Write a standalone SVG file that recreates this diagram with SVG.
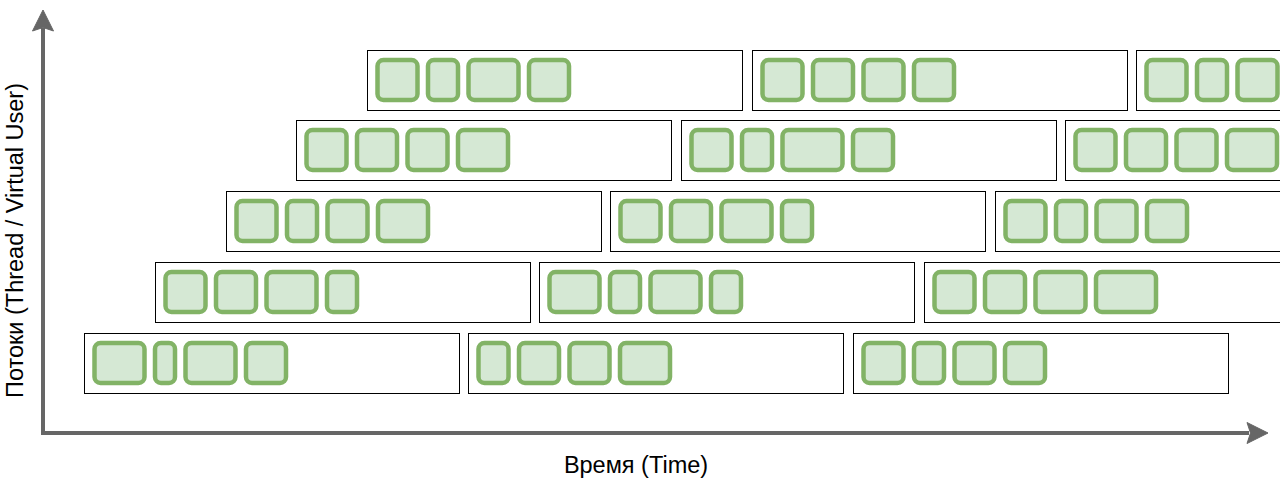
<svg xmlns="http://www.w3.org/2000/svg" width="1280" height="478" viewBox="0 0 1280 478">
<style>
.box{fill:#fff;stroke:#000;stroke-width:1}
.c{fill:#d5e8d4;stroke:#82b366;stroke-width:4.5}
.ax{fill:none;stroke:#666;stroke-width:4}
.ah{fill:#666;stroke:#666;stroke-width:1}
.t{font-family:"Liberation Sans",Arial,sans-serif;font-size:23.5px;fill:#000}
</style>
<rect width="1280" height="478" fill="#fff"/>
<g id="connectors">
<polyline class="ax" points="43,28 43,433 1249,433"/>
<polygon class="ah" points="43,10 32.5,31 43,27.5 53.5,31"/>
<polygon class="ah" points="1268,433 1247,422.5 1250.5,433 1247,443.5"/>
</g>
<g id="row1">
<g id="r1b1"><rect class="box" x="367.5" y="50.5" width="375" height="60"/>
<rect class="c" x="377.5" y="60" width="40" height="40" rx="6"/><rect class="c" x="428" y="60" width="30" height="40" rx="6"/><rect class="c" x="468.5" y="60" width="50" height="40" rx="6"/><rect class="c" x="529" y="60" width="40" height="40" rx="6"/></g>
<g id="r1b2"><rect class="box" x="752.5" y="50.5" width="375" height="60"/>
<rect class="c" x="762.5" y="60" width="40" height="40" rx="6"/><rect class="c" x="813" y="60" width="40" height="40" rx="6"/><rect class="c" x="863.5" y="60" width="40" height="40" rx="6"/><rect class="c" x="914" y="60" width="40" height="40" rx="6"/></g>
<g id="r1b3"><rect class="box" x="1136.5" y="50.5" width="375" height="60"/>
<rect class="c" x="1146.5" y="60" width="40" height="40" rx="6"/><rect class="c" x="1197" y="60" width="30" height="40" rx="6"/><rect class="c" x="1237.5" y="60" width="40" height="40" rx="6"/></g>
</g>
<g id="row2">
<g id="r2b1"><rect class="box" x="296.5" y="120.5" width="375" height="60"/>
<rect class="c" x="306.5" y="130" width="40" height="40" rx="6"/><rect class="c" x="357" y="130" width="40" height="40" rx="6"/><rect class="c" x="407.5" y="130" width="40" height="40" rx="6"/><rect class="c" x="458" y="130" width="50" height="40" rx="6"/></g>
<g id="r2b2"><rect class="box" x="681.5" y="120.5" width="375" height="60"/>
<rect class="c" x="691.5" y="130" width="40" height="40" rx="6"/><rect class="c" x="742" y="130" width="30" height="40" rx="6"/><rect class="c" x="782.5" y="130" width="60" height="40" rx="6"/><rect class="c" x="853" y="130" width="40" height="40" rx="6"/></g>
<g id="r2b3"><rect class="box" x="1065.5" y="120.5" width="375" height="60"/>
<rect class="c" x="1075.5" y="130" width="40" height="40" rx="6"/><rect class="c" x="1126" y="130" width="40" height="40" rx="6"/><rect class="c" x="1176.5" y="130" width="40" height="40" rx="6"/><rect class="c" x="1227" y="130" width="50" height="40" rx="6"/></g>
</g>
<g id="row3">
<g id="r3b1"><rect class="box" x="226.5" y="191.5" width="375" height="60"/>
<rect class="c" x="236.5" y="201" width="40" height="40" rx="6"/><rect class="c" x="287" y="201" width="30" height="40" rx="6"/><rect class="c" x="327.5" y="201" width="40" height="40" rx="6"/><rect class="c" x="378" y="201" width="50" height="40" rx="6"/></g>
<g id="r3b2"><rect class="box" x="610.5" y="191.5" width="375" height="60"/>
<rect class="c" x="620.5" y="201" width="40" height="40" rx="6"/><rect class="c" x="671" y="201" width="40" height="40" rx="6"/><rect class="c" x="721.5" y="201" width="50" height="40" rx="6"/><rect class="c" x="782" y="201" width="30" height="40" rx="6"/></g>
<g id="r3b3"><rect class="box" x="995.5" y="191.5" width="375" height="60"/>
<rect class="c" x="1005.5" y="201" width="40" height="40" rx="6"/><rect class="c" x="1056" y="201" width="30" height="40" rx="6"/><rect class="c" x="1096.5" y="201" width="40" height="40" rx="6"/><rect class="c" x="1147" y="201" width="40" height="40" rx="6"/></g>
</g>
<g id="row4">
<g id="r4b1"><rect class="box" x="155.5" y="262.5" width="375" height="60"/>
<rect class="c" x="165.5" y="272" width="40" height="40" rx="6"/><rect class="c" x="216" y="272" width="40" height="40" rx="6"/><rect class="c" x="266.5" y="272" width="50" height="40" rx="6"/><rect class="c" x="327" y="272" width="30" height="40" rx="6"/></g>
<g id="r4b2"><rect class="box" x="539.5" y="262.5" width="375" height="60"/>
<rect class="c" x="549.5" y="272" width="50" height="40" rx="6"/><rect class="c" x="610" y="272" width="30" height="40" rx="6"/><rect class="c" x="650.5" y="272" width="50" height="40" rx="6"/><rect class="c" x="711" y="272" width="30" height="40" rx="6"/></g>
<g id="r4b3"><rect class="box" x="924.5" y="262.5" width="375" height="60"/>
<rect class="c" x="934.5" y="272" width="40" height="40" rx="6"/><rect class="c" x="985" y="272" width="40" height="40" rx="6"/><rect class="c" x="1035.5" y="272" width="50" height="40" rx="6"/><rect class="c" x="1096" y="272" width="60" height="40" rx="6"/></g>
</g>
<g id="row5">
<g id="r5b1"><rect class="box" x="84.5" y="333.5" width="375" height="60"/>
<rect class="c" x="94.5" y="343" width="50" height="40" rx="6"/><rect class="c" x="155" y="343" width="20" height="40" rx="6"/><rect class="c" x="185.5" y="343" width="50" height="40" rx="6"/><rect class="c" x="246" y="343" width="40" height="40" rx="6"/></g>
<g id="r5b2"><rect class="box" x="468.5" y="333.5" width="375" height="60"/>
<rect class="c" x="478.5" y="343" width="30" height="40" rx="6"/><rect class="c" x="519" y="343" width="40" height="40" rx="6"/><rect class="c" x="569.5" y="343" width="40" height="40" rx="6"/><rect class="c" x="620" y="343" width="50" height="40" rx="6"/></g>
<g id="r5b3"><rect class="box" x="853.5" y="333.5" width="375" height="60"/>
<rect class="c" x="863.5" y="343" width="40" height="40" rx="6"/><rect class="c" x="914" y="343" width="30" height="40" rx="6"/><rect class="c" x="954.5" y="343" width="40" height="40" rx="6"/><rect class="c" x="1005" y="343" width="40" height="40" rx="6"/></g>
</g>
<g id="labels">
<text class="t" x="636" y="473" text-anchor="middle">Время (Time)</text>
<text class="t" transform="translate(23,240.5) rotate(-90)" text-anchor="middle">Потоки (Thread / Virtual User)</text>
</g>
</svg>
